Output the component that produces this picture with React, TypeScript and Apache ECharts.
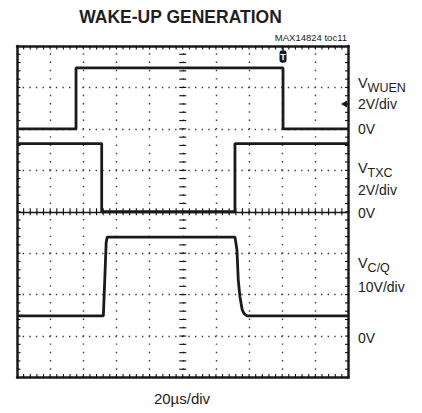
import React, { useEffect, useRef } from "react";
import * as echarts from "echarts";

// Time axis (µs), 20 µs/div, trigger-centred
const timeMin = -100;
const timeMax = 100;
const timePerDiv = 20;
// Vertical axis in screen divisions
const divMin = -4;
const divMax = 4;
const minorPerDiv = 5;

// Channel 1: V_WUEN (2V/div, 0V at +2 div)
const wuenTime = [-100, -64.4, -64.4, 60.5, 60.5, 100];
const wuenVolt = [0, 0, 2.94, 2.94, 0, 0];
// Channel 2: V_TXC (2V/div, 0V at 0 div)
const txcTime = [-100, -48.9, -48.9, 31.5, 31.5, 100];
const txcVolt = [3.29, 3.29, 0, 0, 3.29, 3.29];
// Channel 3: V_C/Q (10V/div, 0V at -3 div)
const cqTime = [-100, -47.9, -46.9, -46.2, -45.6, 31.5, 32.7, 33.5, 34.5, 35.9, 37.0, 38.6, 40.5, 100];
const cqVolt = [4.85, 4.85, 15.2, 22.6, 23.9, 23.9, 20.8, 13.5, 9.5, 6.3, 5.4, 4.9, 4.85, 4.85];

const channelNames = ["WUEN", "TXC", "C/Q"];
const channelZeroDiv = [2, 0, -3];
const channelVoltsPerDiv = [2, 2, 10];
const channelScaleLabels = ["2V/div", "2V/div", "10V/div"];

const triggerTime = 60.5;
const triggerLevelVolt = 1.2;

const FONT = "'Liberation Sans', Arial, Helvetica, sans-serif";
const INK = "#1a1a1a";
const TXT = "#222";

function toDiv(times: number[], volts: number[], ch: number) {
  return times.map((t, i) => [t, channelZeroDiv[ch] + volts[i] / channelVoltsPerDiv[ch]]);
}

function borderAxis(position: string, split: boolean, splitDash: number[]) {
  return {
    position,
    axisLine: { show: true, onZero: false, lineStyle: { color: INK, width: 2.5 } },
    axisTick: { show: false },
    axisLabel: { show: false },
    splitLine: {
      show: split,
      lineStyle: { color: "#3a3a3a", width: 1.4, type: splitDash, dashOffset: 0.7 },
    },
  };
}

function centerAxis(position: string, showLine: boolean) {
  return {
    position,
    axisLine: { show: showLine, onZero: true, onZeroAxisIndex: 0, lineStyle: { color: INK, width: 1.3 } },
    axisTick: { show: false },
    axisLabel: { show: false },
    splitLine: { show: false },
  };
}

// graticule tick marks along the border and the centre cross, one per minor division
function renderGraticuleTicks(params: any, api: any) {
  const L = 3.5;
  const children: any[] = [];
  const style = { stroke: "#111", lineWidth: 1.1 };
  const nx = ((timeMax - timeMin) / timePerDiv) * minorPerDiv;
  const ny = (divMax - divMin) * minorPerDiv;
  for (let k = 1; k < nx; k++) {
    const t = timeMin + (k * timePerDiv) / minorPerDiv;
    const b = api.coord([t, divMin]);
    const tp = api.coord([t, divMax]);
    const c = api.coord([t, 0]);
    children.push({ type: "line", shape: { x1: b[0], y1: b[1], x2: b[0], y2: b[1] - L }, style });
    children.push({ type: "line", shape: { x1: tp[0], y1: tp[1], x2: tp[0], y2: tp[1] + L }, style });
    children.push({ type: "line", shape: { x1: c[0], y1: c[1] - L, x2: c[0], y2: c[1] + L }, style });
  }
  for (let k = 1; k < ny; k++) {
    const d = divMin + k / minorPerDiv;
    const l = api.coord([timeMin, d]);
    const r = api.coord([timeMax, d]);
    const c = api.coord([0, d]);
    children.push({ type: "line", shape: { x1: l[0], y1: l[1], x2: l[0] + L, y2: l[1] }, style });
    children.push({ type: "line", shape: { x1: r[0], y1: r[1], x2: r[0] - L, y2: r[1] }, style });
    children.push({ type: "line", shape: { x1: c[0] - L, y1: c[1], x2: c[0] + L, y2: c[1] }, style });
  }
  return { type: "group", children };
}

export default function App() {
  const ref = useRef<HTMLDivElement>(null);

  useEffect(() => {
    if (!ref.current) return;
    const chart = echarts.init(ref.current, undefined, { renderer: "svg" });

    const xBase = { type: "value", min: timeMin, max: timeMax, interval: timePerDiv };
    const yBase = { type: "value", min: divMin, max: divMax, interval: 1 };

    const lineSeries = (name: string, data: number[][], extra: any = {}) => ({
      name,
      type: "line",
      xAxisIndex: 0,
      yAxisIndex: 0,
      data,
      showSymbol: false,
      symbol: "none",
      lineStyle: { color: INK, width: 2.8 },
      z: 10,
      ...extra,
    });

    const labelX = 358;
    const txt = (text: string, x: number, y: number, size: number, extra: any = {}) => ({
      type: "text",
      x,
      y,
      silent: true,
      style: {
        text,
        fill: TXT,
        fontSize: size,
        fontFamily: FONT,
        align: "left",
        verticalAlign: "middle",
        ...extra,
      },
    });

    const labelRows = [
      { v: 83, sub: 87.5, scale: 104, zero: 128.5 },
      { v: 168, sub: 172.5, scale: 190, zero: 213 },
      { v: 263, sub: 268, scale: 287, zero: 338 },
    ];

    const graphics: any[] = [
      txt("WAKE-UP GENERATION", 180.5, 16.5, 17.5, { fontWeight: "bold", align: "center", fill: "#1f1f1f" }),
      txt("MAX14824 toc11", 347, 37.5, 9.5, { align: "right" }),
      txt("20µs/div", 182, 398, 15, { align: "center" }),
    ];
    labelRows.forEach((r, i) => {
      graphics.push(txt("V", labelX, r.v, 14.5));
      graphics.push(txt(channelNames[i], labelX + 9.6, r.sub, 12.5));
      graphics.push(txt(channelScaleLabels[i], labelX, r.scale, 14));
      graphics.push(txt("0V", labelX, r.zero, 14));
    });

    chart.setOption({
      animation: false,
      backgroundColor: "#ffffff",
      grid: { left: 17, top: 46, width: 331.5, height: 331.5, containLabel: false },
      xAxis: [
        { ...xBase, ...borderAxis("bottom", true, [1.4, 6.89]) },
        { ...xBase, ...borderAxis("top", false, [1.4, 6.89]) },
        { ...xBase, ...centerAxis("bottom", true) },
      ],
      yAxis: [
        { ...yBase, ...borderAxis("left", true, [1.4, 5.23]) },
        { ...yBase, ...borderAxis("right", false, [1.4, 5.23]) },
        { ...yBase, ...centerAxis("left", false) },
      ],
      series: [
        {
          type: "custom",
          name: "graticule",
          xAxisIndex: 0,
          yAxisIndex: 0,
          silent: true,
          data: [[0, 0]],
          renderItem: renderGraticuleTicks,
          z: 5,
        },
        lineSeries("WUEN", toDiv(wuenTime, wuenVolt, 0), {
          markPoint: {
            silent: true,
            animation: false,
            data: [
              {
                coord: [triggerTime, divMax],
                symbol: "rect",
                symbolSize: [1.5, 6],
                symbolOffset: [0, 3],
                itemStyle: { color: INK },
                label: { show: false },
              },
              {
                coord: [triggerTime, divMax],
                symbol: "roundRect",
                symbolSize: [7, 12],
                symbolOffset: [0, 10.5],
                itemStyle: { color: INK },
                label: {
                  show: true,
                  position: "inside",
                  formatter: "T",
                  color: "#fff",
                  fontSize: 9,
                  fontWeight: "bold",
                  fontFamily: FONT,
                },
              },
              {
                coord: [timeMax, channelZeroDiv[0] + triggerLevelVolt / channelVoltsPerDiv[0]],
                symbol: "triangle",
                symbolRotate: 90,
                symbolSize: [7, 6],
                symbolOffset: [-4.5, 0],
                itemStyle: { color: INK },
                label: { show: false },
              },
            ],
          },
        }),
        lineSeries("TXC", toDiv(txcTime, txcVolt, 1)),
        lineSeries("C/Q", toDiv(cqTime, cqVolt, 2)),
      ],
      graphic: graphics,
    });

    return () => chart.dispose();
  }, []);

  return (
    <div
      ref={ref}
      style={{ position: "absolute", left: 0, top: 0, width: 422, height: 413, background: "#fff" }}
    />
  );
}
